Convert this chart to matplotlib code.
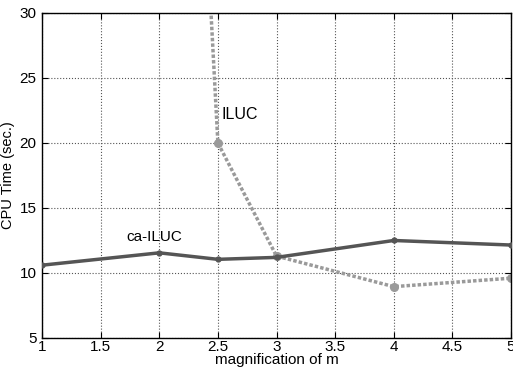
import matplotlib.pyplot as plt

plt.rcParams['font.family'] = ['Liberation Sans', 'DejaVu Sans']

# Data
m_values = [1, 2, 2.5, 3, 4, 5]
ca_iluc_time = [10.6, 11.55, 11.05, 11.2, 12.5, 12.15]
iluc_m = [2, 2.5, 3, 4, 5]
iluc_time = [105, 20.0, 11.3, 8.95, 9.6]

x_ticks = [1, 1.5, 2, 2.5, 3, 3.5, 4, 4.5, 5]
y_ticks = [5, 10, 15, 20, 25, 30]

fig = plt.figure(figsize=(5.13, 3.7), dpi=100)
ax = fig.add_axes([0.082, 0.0865, 0.914, 0.8785])

ax.plot(m_values, ca_iluc_time, color='#555555', linewidth=2.5, marker='o',
        markersize=3.5, solid_capstyle='round', zorder=3)
ax.plot(iluc_m, iluc_time, color='#9a9a9a', linewidth=2.5, linestyle=(0, (1, 0.6)),
        marker='o', markersize=5.5, zorder=2)

ax.text(2.53, 22.2, 'ILUC', fontsize=11.5, va='center', ha='left')
ax.text(1.96, 12.75, 'ca-ILUC', fontsize=11, va='center', ha='center')

ax.set_xlim(1, 5)
ax.set_ylim(5, 30)
ax.set_xticks(x_ticks)
ax.set_xticklabels([f'{t:g}' for t in x_ticks])
ax.set_yticks(y_ticks)
ax.grid(True, linestyle=':', color='#555555', linewidth=0.8)
ax.tick_params(direction='in', top=True, right=True, labelsize=11, length=4)
ax.tick_params(axis='x', pad=1.5)
ax.tick_params(axis='y', pad=4)
for s in ax.spines.values():
    s.set_linewidth(1.0)

ax.set_xlabel('magnification of m', fontsize=11, labelpad=-1)
ax.set_ylabel('CPU Time (sec.)', fontsize=10.5, labelpad=3)

fig.savefig('out.png', dpi=100)
